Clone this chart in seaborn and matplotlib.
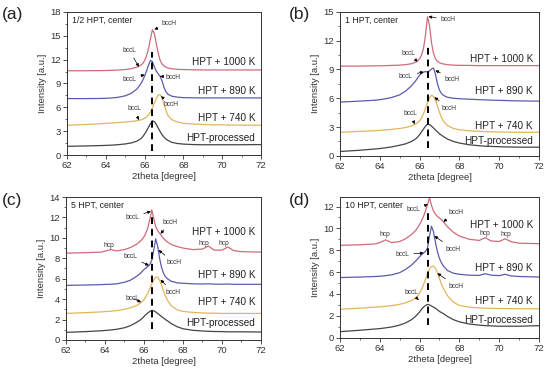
import numpy as np
import pandas as pd
import matplotlib.pyplot as plt
import seaborn as sns

# 2theta grid shared by every curve (denser around the bcc peak)
two_theta = [62.0, 63.0, 63.8, 64.0, 64.3, 64.6,
             65.0, 65.3, 65.6, 65.8, 65.9, 66.0,
             66.1, 66.2, 66.3, 66.4, 66.5, 66.6,
             66.7, 66.8, 66.9, 67.0, 67.1, 67.2,
             67.4, 67.7, 68.0, 68.5, 69.0, 69.3,
             69.6, 70.0, 70.3, 70.6, 71.0, 72.0]

# (a) 1/2 HPT
a_processed = [1.10, 1.15, 1.20, 1.22, 1.25, 1.30, 1.40, 1.52, 1.75, 2.05, 2.30, 2.65,
               3.05, 3.50, 3.95, 4.30, 4.20, 3.85, 3.40, 2.95, 2.55, 2.25, 2.00, 1.85,
               1.60, 1.45, 1.38, 1.32, 1.30, 1.30, 1.30, 1.30, 1.30, 1.30, 1.30, 1.32]
a_740 = [3.75, 3.85, 3.95, 3.98, 4.02, 4.08, 4.15, 4.22, 4.32, 4.42, 4.50, 4.62,
         4.80, 5.05, 5.40, 5.90, 6.50, 7.10, 7.55, 7.60, 7.20, 6.40, 5.60, 5.00,
         4.45, 4.15, 4.00, 3.90, 3.85, 3.82, 3.80, 3.80, 3.78, 3.78, 3.77, 3.75]
a_890 = [7.10, 7.10, 7.12, 7.14, 7.18, 7.25, 7.45, 7.75, 8.30, 8.95, 9.40, 9.95,
         10.6, 11.3, 11.9, 11.75, 11.1, 10.55, 10.2, 9.90, 9.30, 8.50, 7.95, 7.65,
         7.40, 7.28, 7.22, 7.20, 7.18, 7.18, 7.18, 7.18, 7.18, 7.18, 7.18, 7.18]
a_1000 = [10.6, 10.6, 10.62, 10.63, 10.65, 10.68, 10.75, 10.85, 11.05, 11.3, 11.5, 11.9,
          12.5, 13.4, 14.6, 15.75, 15.3, 14.0, 12.8, 11.9, 11.45, 11.2, 11.05, 10.95,
          10.85, 10.78, 10.75, 10.72, 10.7, 10.7, 10.7, 10.7, 10.7, 10.7, 10.7, 10.7]

# (b) 1 HPT
b_processed = [0.45, 0.58, 0.72, 0.76, 0.84, 0.93, 1.10, 1.25, 1.50, 1.75, 1.95, 2.20,
               2.50, 2.80, 3.10, 3.30, 3.25, 3.10, 2.90, 2.70, 2.50, 2.30, 2.15, 2.00,
               1.75, 1.50, 1.33, 1.15, 1.05, 1.00, 0.98, 0.95, 0.93, 0.92, 0.90, 0.90]
b_740 = [2.45, 2.55, 2.62, 2.65, 2.70, 2.76, 2.85, 2.95, 3.10, 3.30, 3.45, 3.65,
         3.95, 4.40, 4.95, 5.55, 6.05, 6.30, 6.20, 5.80, 5.20, 4.55, 4.00, 3.60,
         3.15, 2.85, 2.72, 2.60, 2.55, 2.52, 2.50, 2.48, 2.47, 2.46, 2.45, 2.45]
b_890 = [5.60, 5.70, 5.80, 5.85, 5.95, 6.08, 6.35, 6.75, 7.30, 7.80, 8.10, 8.40,
         8.60, 8.72, 8.78, 8.72, 8.85, 9.05, 9.15, 8.50, 7.50, 6.85, 6.50, 6.30,
         6.10, 6.00, 5.95, 5.90, 5.85, 5.83, 5.80, 5.78, 5.76, 5.74, 5.72, 5.70]
b_1000 = [9.35, 9.35, 9.38, 9.38, 9.40, 9.42, 9.45, 9.50, 9.60, 9.75, 9.90, 10.1,
          10.5, 11.2, 12.6, 14.5, 13.6, 11.8, 10.7, 10.1, 9.85, 9.70, 9.62, 9.57,
          9.50, 9.45, 9.43, 9.42, 9.40, 9.40, 9.40, 9.40, 9.40, 9.40, 9.40, 9.40]

# (c) 5 HPT
c_processed = [0.75, 0.82, 0.90, 0.93, 0.98, 1.05, 1.20, 1.40, 1.70, 1.95, 2.10, 2.30,
               2.50, 2.65, 2.80, 2.90, 2.85, 2.75, 2.60, 2.45, 2.30, 2.15, 2.00, 1.88,
               1.60, 1.30, 1.10, 0.95, 0.88, 0.85, 0.83, 0.82, 0.80, 0.80, 0.80, 0.78]
c_740 = [2.60, 2.68, 2.75, 2.78, 2.82, 2.88, 3.00, 3.15, 3.35, 3.60, 3.75, 3.95,
         4.25, 4.60, 5.05, 5.50, 5.90, 6.15, 6.15, 5.85, 5.35, 4.80, 4.30, 3.90,
         3.35, 2.95, 2.80, 2.70, 2.65, 2.63, 2.62, 2.60, 2.60, 2.60, 2.60, 2.60]
c_890 = [5.35, 5.38, 5.42, 5.44, 5.46, 5.50, 5.65, 5.85, 6.20, 6.50, 6.70, 6.90,
         7.05, 7.20, 7.40, 7.80, 8.80, 9.90, 9.20, 8.00, 7.10, 6.55, 6.20, 6.00,
         5.75, 5.60, 5.55, 5.50, 5.48, 5.50, 5.47, 5.46, 5.48, 5.45, 5.45, 5.45]
c_1000 = [8.50, 8.55, 8.60, 8.70, 8.85, 8.72, 8.85, 9.05, 9.35, 9.65, 9.85, 10.1,
          10.5, 11.0, 11.8, 12.75, 11.9, 11.1, 10.7, 10.45, 10.2, 9.95, 9.75, 9.60,
          9.35, 9.15, 9.00, 8.85, 8.90, 9.20, 8.80, 8.80, 9.10, 8.75, 8.65, 8.60]

# (d) 10 HPT
d_processed = [0.55, 0.68, 0.80, 0.83, 0.90, 0.98, 1.15, 1.35, 1.65, 1.95, 2.15, 2.35,
               2.60, 2.80, 2.95, 3.05, 3.00, 2.90, 2.80, 2.70, 2.55, 2.40, 2.30, 2.20,
               1.95, 1.65, 1.45, 1.25, 1.15, 1.10, 1.08, 1.05, 1.05, 1.05, 1.05, 1.10]
d_740 = [2.60, 2.70, 2.80, 2.82, 2.87, 2.93, 3.05, 3.20, 3.40, 3.65, 3.80, 4.05,
         4.40, 4.85, 5.35, 5.85, 6.30, 6.50, 6.55, 6.35, 5.95, 5.40, 4.90, 4.50,
         3.85, 3.25, 2.95, 2.80, 2.72, 2.70, 2.68, 2.67, 2.67, 2.66, 2.65, 2.65]
d_890 = [5.50, 5.55, 5.60, 5.62, 5.68, 5.75, 5.95, 6.25, 6.65, 7.00, 7.20, 7.40,
         7.60, 7.75, 7.90, 8.20, 9.30, 10.2, 9.70, 8.70, 7.85, 7.25, 6.85, 6.55,
         6.15, 5.90, 5.80, 5.72, 5.70, 5.85, 5.72, 5.68, 5.80, 5.65, 5.60, 5.55]
d_1000 = [8.45, 8.50, 8.58, 8.70, 8.95, 8.70, 8.80, 9.05, 9.45, 9.80, 10.05, 10.35,
          10.7, 11.1, 11.6, 12.2, 12.8, 12.1, 11.6, 11.3, 11.1, 10.95, 10.8, 10.6,
          10.15, 9.65, 9.30, 9.00, 8.90, 9.15, 8.85, 8.80, 9.05, 8.78, 8.65, 8.60]

series_names = ['HPT-processed', 'HPT + 740 K', 'HPT + 890 K', 'HPT + 1000 K']
series_colors = ['#454545', '#e3b55c', '#5b5bad', '#cf6b7a']
panel_letters = ['(a)', '(b)', '(c)', '(d)']
panel_titles = ['1/2 HPT, center', '1 HPT, center', '5 HPT, center', '10 HPT, center']
panel_curves = [[a_processed, a_740, a_890, a_1000],
                [b_processed, b_740, b_890, b_1000],
                [c_processed, c_740, c_890, c_1000],
                [d_processed, d_740, d_890, d_1000]]
y_max = [18, 15, 14, 12.9]
y_step = [3, 3, 2, 2]
label_y = [[2.1, 4.6, 8.1, 11.7],
           [1.5, 3.1, 6.8, 10.05],
           [1.7, 3.75, 6.4, 10.6],
           [1.6, 3.33, 6.36, 10.35]]
bcc_ref = 66.4
dash_span = [(0.5, 13.0), (0.8, 11.8), (1.1, 12.4), (1.2, 11.5)]

# peak labels: (text, text position, arrow tip)
peak_notes = [
    [('bccH', (67.25, 16.5), (66.5, 15.8)), ('bccL', (65.2, 13.2), (65.7, 11.1)),
     ('bccL', (65.2, 9.5), (66.0, 10.1)), ('bccH', (67.45, 9.8), (66.8, 9.9)),
     ('bccH', (67.35, 6.3), (66.85, 7.4)), ('bccL', (65.45, 5.9), (65.7, 4.4))],
    [('bccH', (67.45, 14.2), (66.45, 14.5)), ('bccL', (65.45, 10.7), (65.9, 9.8)),
     ('bccL', (65.3, 8.3), (66.2, 8.75)), ('bccH', (67.65, 8.0), (66.8, 8.9)),
     ('bccH', (67.5, 4.95), (66.75, 6.1)), ('bccL', (65.55, 4.4), (65.75, 3.3))],
    [('bccL', (65.4, 12.0), (66.35, 12.6)), ('bccH', (67.35, 11.55), (66.85, 10.4)),
     ('bccL', (65.3, 8.15), (66.25, 7.3)), ('bccH', (67.55, 7.55), (66.75, 8.8)),
     ('bccH', (67.5, 4.65), (66.85, 5.9)), ('bccL', (65.4, 4.1), (65.85, 3.7))],
    [('bccL', (65.67, 11.7), (66.42, 12.2)), ('bccH', (67.83, 11.5), (67.2, 10.6)),
     ('bccL', (65.13, 7.6), (66.2, 7.75)), ('bccH', (67.7, 8.1), (66.75, 9.3)),
     ('bccH', (67.83, 4.7), (66.9, 5.9)), ('bccL', (65.6, 4.1), (65.95, 3.45))],
]
hcp_notes = [[], [],
             [(64.2, 9.3), (69.05, 9.4), (70.1, 9.4)],
             [(64.25, 9.4), (69.3, 9.5), (70.35, 9.4)]]

sns.set_style('ticks')
plt.rcParams['font.family'] = ['Liberation Sans', 'DejaVu Sans']

fig = plt.figure(figsize=(5.5, 3.71), dpi=100)
boxes = [[0.122, 0.582, 0.3525, 0.386],
         [0.618, 0.580, 0.362, 0.388],
         [0.120, 0.0836, 0.3545, 0.3854],
         [0.618, 0.0898, 0.362, 0.380]]
letter_pos = [(0.003, 0.98), (0.525, 0.98), (0.003, 0.481), (0.525, 0.481)]

for i in range(4):
    ax = fig.add_axes(boxes[i])
    for curve, name, col in zip(panel_curves[i], series_names, series_colors):
        sns.lineplot(x=two_theta, y=curve, ax=ax, color=col, lw=0.9,
                     estimator=None, sort=False)
    for name, yy in zip(series_names, label_y[i]):
        ax.text(71.7, yy, name, ha='right', va='center', fontsize=7.2, color='#222222')
    ax.plot([bcc_ref, bcc_ref], dash_span[i], color='black', lw=1.4, ls=(0, (3.5, 2.5)))
    for txt, xy_t, xy_p in peak_notes[i]:
        ax.annotate(txt, xy=xy_p, xytext=xy_t, fontsize=4.8, color='#333333',
                    ha='center', va='center',
                    arrowprops=dict(arrowstyle='-|>', color='black', lw=0.5,
                                    mutation_scale=4.5, shrinkA=1, shrinkB=0))
    for hx, hy in hcp_notes[i]:
        ax.text(hx, hy, 'hcp', fontsize=4.8, color='#333333', ha='center', va='center')
    ax.text(0.025, 0.94, panel_titles[i], transform=ax.transAxes, fontsize=6.3,
            ha='left', va='center', color='#222222')

    ax.set_xlim(62, 72)
    ax.set_ylim(0, y_max[i])
    ax.set_xticks(np.arange(62, 72.1, 2))
    ax.set_xticks(np.arange(62, 72.1, 1), minor=True)
    ax.set_yticks(np.arange(0, y_max[i] + 0.01, y_step[i]))
    ax.set_yticks(np.arange(0, y_max[i] + 0.01, y_step[i] / 2), minor=True)
    ax.tick_params(which='major', direction='out', length=3, width=0.6,
                   labelsize=6.8, pad=1.5, colors='#333333')
    ax.tick_params(which='minor', direction='out', length=1.5, width=0.5, colors='#333333')
    for sp in ax.spines.values():
        sp.set_visible(True)
        sp.set_linewidth(0.7)
        sp.set_color('#333333')
    ax.set_xlabel('2theta [degree]', fontsize=6.8, labelpad=1.5, color='#333333')
    ax.set_ylabel('Intensity [a.u.]', fontsize=6.8, labelpad=2, color='#333333')
    fig.text(letter_pos[i][0], letter_pos[i][1], panel_letters[i], fontsize=12.5,
             ha='left', va='top', color='#222222')

fig.savefig('out.png', dpi=100)
